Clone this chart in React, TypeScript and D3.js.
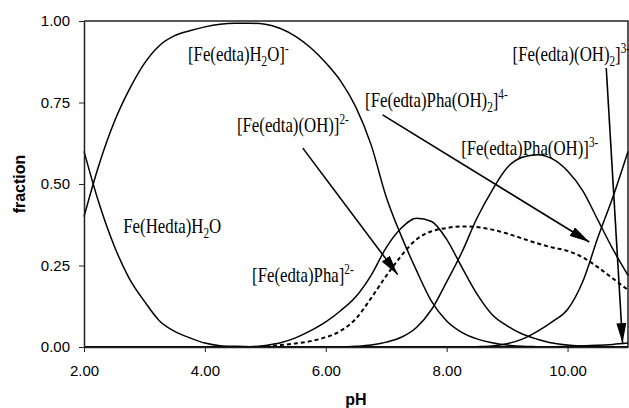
import React, { useEffect, useRef } from 'react';
import * as d3 from 'd3';

// pH grid the curves are read at
const pH = [2, 2.25, 2.5, 2.75, 3, 3.25, 3.5, 3.75, 4, 4.25, 4.5, 4.75, 5, 5.25, 5.5, 5.75, 6, 6.25, 6.5, 6.75, 7, 7.25, 7.5, 7.75, 8, 8.25, 8.5, 8.75, 9, 9.25, 9.5, 9.75, 10, 10.25, 10.5, 10.75, 11];

// species fractions
const hedtaH2O = [0.6, 0.44, 0.31, 0.21, 0.14, 0.08, 0.048, 0.028, 0.012, 0.004, 0.002, 0.001, 0, 0, 0, 0, 0, 0, 0, 0, 0, 0, 0, 0, 0, 0, 0, 0, 0, 0, 0, 0, 0, 0, 0, 0, 0];
const edtaH2O = [0.4, 0.56, 0.69, 0.79, 0.87, 0.925, 0.955, 0.97, 0.982, 0.99, 0.993, 0.993, 0.99, 0.977, 0.953, 0.918, 0.872, 0.815, 0.735, 0.62, 0.46, 0.34, 0.235, 0.14, 0.08, 0.045, 0.025, 0.013, 0.006, 0.002, 0.001, 0, 0, 0, 0, 0, 0];
const edtaOH = [0, 0, 0, 0, 0, 0, 0, 0, 0, 0, 0, 0.001, 0.005, 0.013, 0.028, 0.05, 0.077, 0.112, 0.155, 0.22, 0.305, 0.365, 0.395, 0.385, 0.33, 0.245, 0.163, 0.1, 0.065, 0.04, 0.024, 0.012, 0.006, 0.003, 0.001, 0, 0];
const edtaPha = [0, 0, 0, 0, 0, 0, 0, 0, 0, 0, 0, 0, 0.002, 0.006, 0.011, 0.018, 0.03, 0.05, 0.087, 0.15, 0.218, 0.28, 0.33, 0.355, 0.365, 0.37, 0.368, 0.36, 0.348, 0.333, 0.318, 0.305, 0.295, 0.275, 0.245, 0.21, 0.175];
const edtaPhaOH = [0, 0, 0, 0, 0, 0, 0, 0, 0, 0, 0, 0, 0, 0, 0, 0, 0, 0, 0.002, 0.006, 0.015, 0.03, 0.06, 0.115, 0.2, 0.29, 0.395, 0.48, 0.55, 0.582, 0.59, 0.577, 0.54, 0.48, 0.39, 0.3, 0.22];
const edtaPhaOH2 = [0, 0, 0, 0, 0, 0, 0, 0, 0, 0, 0, 0, 0, 0, 0, 0, 0, 0, 0, 0, 0, 0, 0, 0, 0, 0, 0.001, 0.003, 0.01, 0.024, 0.048, 0.078, 0.115, 0.2, 0.335, 0.46, 0.6];
const edtaOH2 = [0, 0, 0, 0, 0, 0, 0, 0, 0, 0, 0, 0, 0, 0, 0, 0, 0, 0, 0, 0, 0, 0, 0, 0, 0, 0, 0, 0, 0, 0, 0.001, 0.001, 0.002, 0.003, 0.005, 0.008, 0.012];

const xTicks = [2, 4, 6, 8, 10];
const yTicks = [0, 0.25, 0.5, 0.75, 1];

// labels: position in data units, text pieces ('n' normal, 'sub', 'sup')
type Part = [string, string];
const labelPos = [
  [3.72, 0.877],
  [4.53, 0.66],
  [6.65, 0.736],
  [8.24, 0.589],
  [9.09, 0.877],
  [2.65, 0.35],
  [4.78, 0.2],
];
const labelText: Part[][] = [
  [['[Fe(edta)H', 'n'], ['2', 'sub'], ['O]', 'n'], ['-', 'sup']],
  [['[Fe(edta)(OH)]', 'n'], ['2-', 'sup']],
  [['[Fe(edta)Pha(OH)', 'n'], ['2', 'sub'], [']', 'n'], ['4-', 'sup']],
  [['[Fe(edta)Pha(OH)]', 'n'], ['3-', 'sup']],
  [['[Fe(edta)(OH)', 'n'], ['2', 'sub'], [']', 'n'], ['3-', 'sup']],
  [['Fe(Hedta)H', 'n'], ['2', 'sub'], ['O', 'n']],
  [['[Fe(edta)Pha]', 'n'], ['2-', 'sup']],
];

// arrows: [from pH, from fraction, to pH, to fraction]
const arrows = [
  [5.62, 0.61, 7.19, 0.222],
  [6.94, 0.712, 10.36, 0.322],
  [10.64, 0.856, 10.91, 0.012],
];

export default function App() {
  const ref = useRef<SVGSVGElement>(null);

  useEffect(() => {
    const svg = d3.select(ref.current);
    svg.selectAll('*').remove();

    const x = d3.scaleLinear().domain([2, 11]).range([84, 628]);
    const y = d3.scaleLinear().domain([0, 1]).range([347, 21]);

    svg
      .append('defs')
      .append('marker')
      .attr('id', 'arrowhead')
      .attr('viewBox', '0 0 20 10')
      .attr('refX', 20)
      .attr('refY', 5)
      .attr('markerWidth', 20)
      .attr('markerHeight', 10)
      .attr('markerUnits', 'userSpaceOnUse')
      .attr('orient', 'auto')
      .append('path')
      .attr('d', 'M0,0L20,5L0,10Z')
      .attr('fill', '#000');

    // frame (top + right)
    svg
      .append('path')
      .attr('d', `M${x(2)},${y(1)}H${x(11)}V${y(0)}`)
      .attr('fill', 'none')
      .attr('stroke', '#222')
      .attr('stroke-width', 1.5);

    const line = d3
      .line<number>()
      .x((_, i) => x(pH[i]))
      .y((d) => y(d))
      .curve(d3.curveMonotoneX);

    const series = [
      { values: hedtaH2O, dash: null },
      { values: edtaH2O, dash: null },
      { values: edtaOH, dash: null },
      { values: edtaPha, dash: '4,3' },
      { values: edtaPhaOH, dash: null },
      { values: edtaPhaOH2, dash: null },
      { values: edtaOH2, dash: null },
    ];

    series.forEach((s) => {
      svg
        .append('path')
        .attr('d', line(s.values))
        .attr('fill', 'none')
        .attr('stroke', '#000')
        .attr('stroke-width', s.dash ? 2 : 1.5)
        .attr('stroke-dasharray', s.dash);
    });

    // axes
    const xAxis = svg
      .append('g')
      .attr('transform', `translate(0,${y(0)})`)
      .call(
        d3.axisBottom(x).tickValues(xTicks).tickFormat(d3.format('.2f')).tickSize(5).tickSizeOuter(0).tickPadding(13)
      );
    const yAxis = svg
      .append('g')
      .attr('transform', `translate(${x(2)},0)`)
      .call(
        d3.axisLeft(y).tickValues(yTicks).tickFormat(d3.format('.2f')).tickSize(5).tickSizeOuter(0).tickPadding(9)
      );
    [xAxis, yAxis].forEach((g) => {
      g.select('.domain').attr('stroke', '#222').attr('stroke-width', 1.5);
      g.selectAll('.tick line').attr('stroke', '#222');
      g.selectAll('.tick text')
        .attr('fill', '#000')
        .style('font-family', '"Liberation Sans", Arial, sans-serif')
        .style('font-size', '15px');
    });

    svg
      .append('text')
      .attr('transform', `translate(25,${y(0.5)}) rotate(-90)`)
      .attr('text-anchor', 'middle')
      .style('font-family', '"Liberation Sans", Arial, sans-serif')
      .style('font-size', '16px')
      .style('font-weight', 'bold')
      .text('fraction');

    svg
      .append('text')
      .attr('x', (x(2) + x(11)) / 2)
      .attr('y', 405)
      .attr('text-anchor', 'middle')
      .style('font-family', '"Liberation Sans", Arial, sans-serif')
      .style('font-size', '16px')
      .style('font-weight', 'bold')
      .text('pH');

    // arrows
    arrows.forEach((a) => {
      svg
        .append('line')
        .attr('x1', x(a[0]))
        .attr('y1', y(a[1]))
        .attr('x2', x(a[2]))
        .attr('y2', y(a[3]))
        .attr('stroke', '#000')
        .attr('stroke-width', 1.6)
        .attr('marker-end', 'url(#arrowhead)');
    });

    // species labels
    labelText.forEach((parts, i) => {
      const g = svg
        .append('g')
        .attr('transform', `translate(${x(labelPos[i][0])},${y(labelPos[i][1])}) scale(0.8,1)`);
      const t = g
        .append('text')
        .style('font-family', '"Liberation Serif", "Times New Roman", serif')
        .style('font-size', '21px')
        .attr('fill', '#000');
      let cur = 0;
      parts.forEach(([str, mode]) => {
        const target = mode === 'sub' ? 5 : mode === 'sup' ? -8 : 0;
        t.append('tspan')
          .attr('dy', target - cur)
          .style('font-size', mode === 'n' ? '21px' : '14px')
          .text(str);
        cur = target;
      });
    });
  }, []);

  return (
    <svg
      ref={ref}
      width={629}
      height={408}
      style={{ position: 'absolute', left: 0, top: 0, background: '#fff' }}
    />
  );
}
